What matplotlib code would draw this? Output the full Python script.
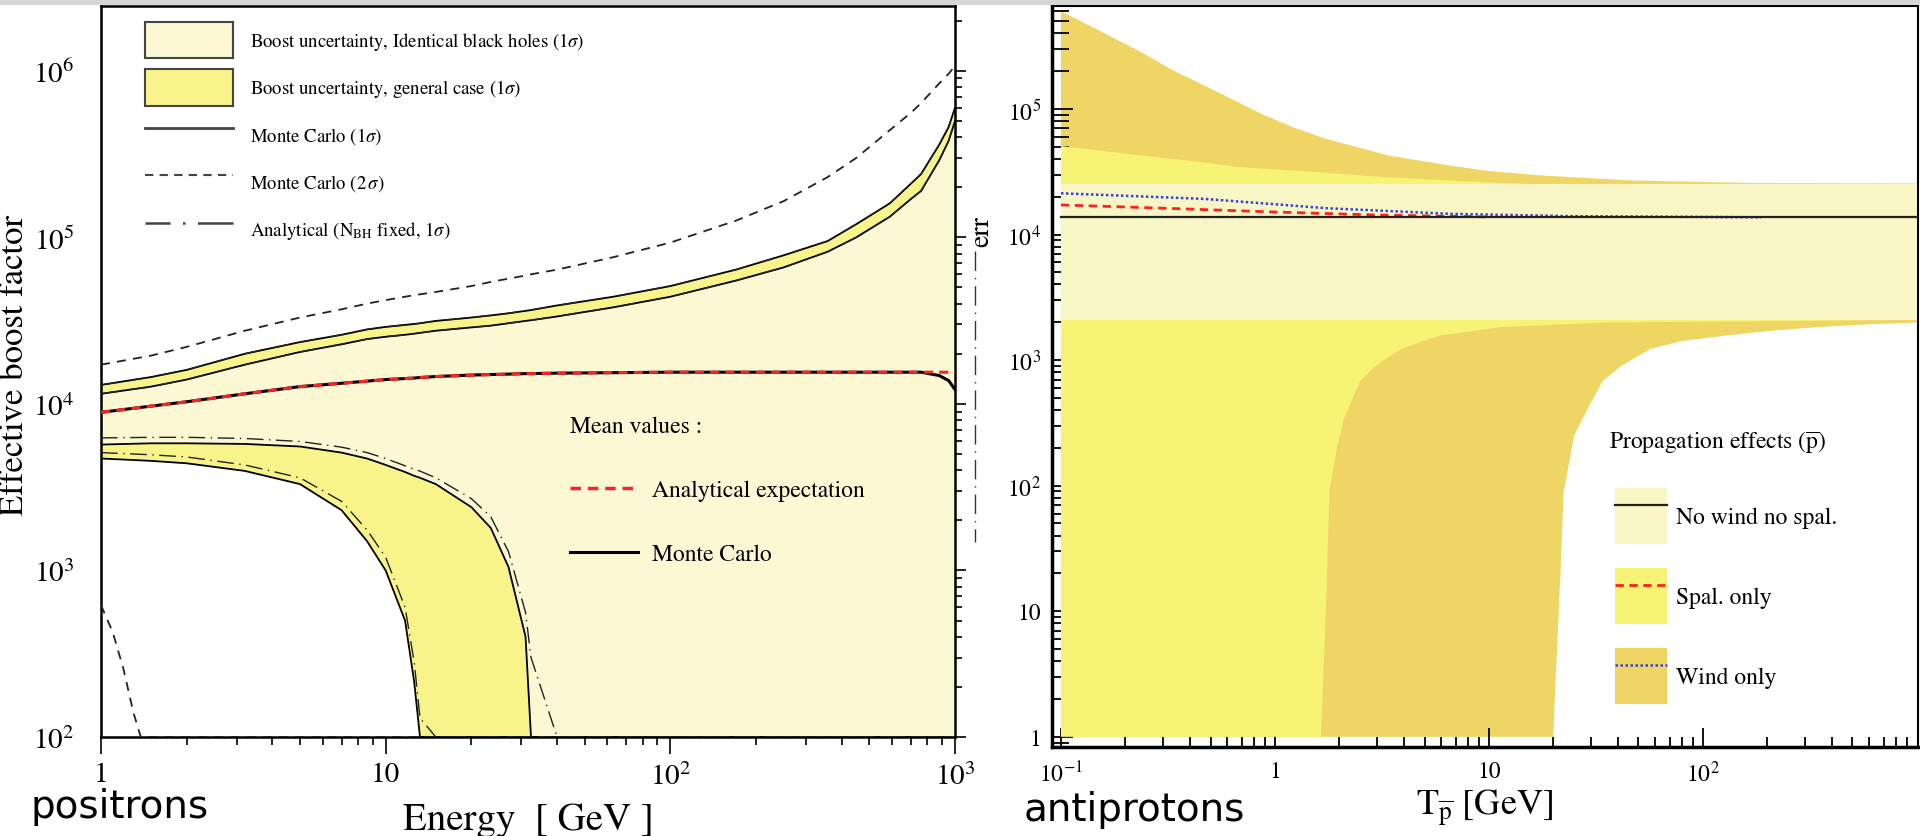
import matplotlib
matplotlib.use("Agg")
import matplotlib.pyplot as plt
import numpy as np
from matplotlib.patches import Patch, Rectangle
from matplotlib.lines import Line2D
from matplotlib.ticker import LogLocator, NullFormatter

plt.rcParams['font.family'] = ['STIXGeneral', 'DejaVu Serif']
plt.rcParams['mathtext.fontset'] = 'stix'

# ---- positrons: effective boost factor vs energy ----
energy = [1, 1.5, 2, 3.2, 5, 7, 8.6, 10, 11.7, 12.6, 13.2, 15, 20, 23.4, 27, 31, 32.4,
          40, 63, 100, 170, 250, 357, 450, 590, 700, 760, 880, 950, 1000]

# general case 1 sigma band (upper / lower edge)
gen_hi = [1.30e4, 1.45e4, 1.6e4, 2.0e4, 2.35e4, 2.6e4, 2.8e4, 2.9e4, 2.98e4, 3.02e4, 3.05e4,
          3.15e4, 3.3e4, 3.4e4, 3.5e4, 3.62e4, 3.66e4, 3.9e4, 4.4e4, 5.1e4, 6.4e4, 7.8e4,
          9.5e4, 1.2e5, 1.6e5, 2.1e5, 2.4e5, 3.6e5, 4.6e5, 6.0e5]
gen_lo = [4.7e3, 4.55e3, 4.4e3, 3.96e3, 3.3e3, 2.3e3, 1.5e3, 1.0e3, 500, 213, 100,
          100, 100, 100, 100, 100, 100, 100, 100, 100, 100, 100, 100, 100, 100, 100, 100,
          100, 100, 100]
# identical black holes 1 sigma band
ident_hi = [1.15e4, 1.27e4, 1.4e4, 1.72e4, 2.05e4, 2.28e4, 2.45e4, 2.53e4, 2.6e4, 2.64e4,
            2.67e4, 2.75e4, 2.88e4, 2.95e4, 3.05e4, 3.15e4, 3.18e4, 3.35e4, 3.8e4, 4.4e4,
            5.5e4, 6.6e4, 8.2e4, 1.0e5, 1.33e5, 1.7e5, 1.9e5, 2.9e5, 3.8e5, 5.0e5]
ident_lo = [5.7e3, 5.8e3, 5.8e3, 5.75e3, 5.55e3, 5.1e3, 4.7e3, 4.3e3, 3.9e3, 3.7e3, 3.6e3,
            3.3e3, 2.4e3, 1.8e3, 1.05e3, 400, 100, 100, 100, 100, 100, 100, 100, 100, 100,
            100, 100, 100, 100, 100]
# Monte Carlo 2 sigma
mc2_hi = [1.72e4, 1.95e4, 2.2e4, 2.75e4, 3.3e4, 3.7e4, 4.0e4, 4.2e4, 4.4e4, 4.5e4, 4.55e4,
          4.7e4, 5.1e4, 5.4e4, 5.65e4, 5.9e4, 6.0e4, 6.4e4, 7.6e4, 9.3e4, 1.26e5, 1.65e5,
          2.3e5, 3.0e5, 4.4e5, 5.6e5, 6.4e5, 8.4e5, 9.6e5, 1.07e6]
energy_mc2_lo = [1, 1.1, 1.2, 1.3, 1.38, 1000]
mc2_lo = [620, 425, 255, 140, 100, 100]
# analytical, N_BH fixed (lower band)
ana_hi = [6.25e3, 6.3e3, 6.3e3, 6.2e3, 5.95e3, 5.5e3, 5.1e3, 4.7e3, 4.25e3, 4.05e3, 3.95e3,
          3.6e3, 2.7e3, 2.1e3, 1.3e3, 560, 300, 100, 100, 100, 100, 100, 100, 100, 100,
          100, 100, 100, 100, 100]
ana_lo = [5.1e3, 4.95e3, 4.8e3, 4.3e3, 3.6e3, 2.6e3, 1.75e3, 1.2e3, 600, 280, 130, 100,
          100, 100, 100, 100, 100, 100, 100, 100, 100, 100, 100, 100, 100, 100, 100, 100,
          100, 100]
# mean values
mean_ana = [8.9e3, 9.7e3, 1.03e4, 1.15e4, 1.27e4, 1.33e4, 1.37e4, 1.4e4, 1.42e4, 1.43e4,
            1.44e4, 1.46e4, 1.49e4, 1.5e4, 1.51e4, 1.52e4, 1.52e4, 1.53e4, 1.54e4, 1.55e4,
            1.55e4, 1.55e4, 1.55e4, 1.55e4, 1.55e4, 1.55e4, 1.55e4, 1.55e4, 1.55e4, 1.55e4]
mean_mc = [8.9e3, 9.7e3, 1.03e4, 1.15e4, 1.27e4, 1.33e4, 1.37e4, 1.4e4, 1.42e4, 1.43e4,
           1.44e4, 1.46e4, 1.49e4, 1.5e4, 1.51e4, 1.52e4, 1.52e4, 1.53e4, 1.54e4, 1.55e4,
           1.55e4, 1.55e4, 1.55e4, 1.55e4, 1.55e4, 1.55e4, 1.55e4, 1.48e4, 1.38e4, 1.22e4]

# ---- antiprotons: propagation effects ----
T_wind_hi = [0.1, 0.16, 0.24, 0.33, 0.47, 0.66, 0.9, 1.2, 1.74, 2.5, 3.4, 6.6, 10, 17.7,
             47, 175, 1000]
wind_hi = [6.0e5, 4.0e5, 2.8e5, 2.05e5, 1.53e5, 1.15e5, 8.85e4, 7.2e4, 5.76e4, 4.9e4,
           4.25e4, 3.54e4, 3.2e4, 2.95e4, 2.69e4, 2.57e4, 2.55e4]
T_wind_lo = [0.1, 20, 20.3, 21.6, 22.3, 25, 30, 34, 41.5, 57, 80, 125, 200, 338, 600, 1000]
wind_lo = [1, 1, 2, 20, 87, 250, 460, 680, 900, 1230, 1420, 1560, 1700, 1830, 1930, 1990]
T_spal_hi = [0.1, 0.24, 0.47, 0.66, 1, 1.74, 3.4, 6.6, 10, 15, 1000]
spal_hi = [5.07e4, 4.25e4, 3.75e4, 3.45e4, 3.3e4, 3.1e4, 2.85e4, 2.69e4, 2.6e4, 2.53e4, 2.53e4]
T_spal_lo = [0.1, 1.64, 1.73, 1.8, 1.95, 2.1, 2.5, 2.95, 3.9, 5.8, 11.3, 34, 1000]
spal_lo = [1, 1, 10, 93, 200, 340, 680, 900, 1230, 1560, 1830, 1990, 2090]
T_none = [0.1, 1000]
none_hi = [2.53e4, 2.53e4]
none_lo = [2090, 2090]

T_line_none = [0.1, 1000]
line_none = [1.37e4, 1.37e4]
T_line_spal = [0.1, 0.3, 1, 3, 10]
line_spal = [1.72e4, 1.62e4, 1.51e4, 1.43e4, 1.38e4]
T_line_wind = [0.1, 0.47, 1.74, 6.6, 24.5, 187]
line_wind = [2.13e4, 1.92e4, 1.62e4, 1.46e4, 1.40e4, 1.37e4]

cream = '#FCF8D4'
yellow = '#F8F48A'
r_cream = '#F9F6C6'
r_yellow = '#F7F374'
r_gold = '#EFD664'

W, H = 1920, 837
fig = plt.figure(figsize=(W / 100, H / 100), dpi=100)
fig.patches.append(Rectangle((0, 1 - 6 / H), 1, 6 / H, transform=fig.transFigure,
                             facecolor='#d6d6d6', edgecolor='none'))

# left panel
ax = fig.add_axes([101 / W, 1 - 738 / H, 854 / W, 731 / H])
ax.set_xscale('log')
ax.set_yscale('log')
ax.fill_between(energy, gen_lo, gen_hi, color=yellow, lw=0, zorder=1)
ax.fill_between(energy, ident_lo, ident_hi, color=cream, lw=0, zorder=2)
for curve in [gen_hi, ident_hi, ident_lo, gen_lo]:
    ax.plot(energy, curve, color='black', lw=1.3, zorder=4)
for curve in [gen_hi, ident_hi]:
    ax.plot(energy, curve, color='#222222', lw=1.0, ls=(0, (12, 4, 1, 4)), zorder=4)
ax.plot(energy, ana_hi, color='#222222', lw=1.0, ls=(0, (12, 4, 1, 4)), zorder=4)
ax.plot(energy, ana_lo, color='#222222', lw=1.0, ls=(0, (12, 4, 1, 4)), zorder=4)
ax.plot(energy, mc2_hi, color='#222222', lw=1.3, ls=(0, (5, 4)), zorder=4)
ax.plot(energy_mc2_lo, mc2_lo, color='#222222', lw=1.3, ls=(0, (5, 4)), zorder=4)
ax.plot(energy, mean_mc, color='black', lw=2.2, zorder=5)
ax.plot(energy, mean_ana, color='#ff2020', lw=2.2, ls=(0, (3, 2)), zorder=6)

ax.set_xlim(1, 1000)
ax.set_ylim(100, 2.45e6)
ax.set_xticks([1, 10, 100, 1000], ['1', '10', r'$10^2$', r'$10^3$'])
ax.set_yticks([1e2, 1e3, 1e4, 1e5, 1e6],
              [r'$10^2$', r'$10^3$', r'$10^4$', r'$10^5$', r'$10^6$'])
ax.xaxis.set_minor_locator(LogLocator(base=10, subs=range(2, 10)))
ax.yaxis.set_minor_locator(LogLocator(base=10, subs=range(2, 10)))
ax.xaxis.set_minor_formatter(NullFormatter())
ax.yaxis.set_minor_formatter(NullFormatter())
ax.tick_params(axis='x', which='both', direction='out', labelsize=21, pad=6, width=1.2)
ax.tick_params(axis='x', which='major', length=12)
ax.tick_params(axis='x', which='minor', length=6)
ax.tick_params(axis='y', which='both', direction='out', left=False, right=True,
               labelleft=True, labelsize=21, pad=11, width=1.2)
ax.tick_params(axis='y', which='major', length=8)
ax.tick_params(axis='y', which='minor', length=5)
for s in ax.spines.values():
    s.set_linewidth(1.8)
ax.set_xlabel('Energy  [ GeV ]', fontsize=28, labelpad=9)
ax.set_ylabel('Effective boost factor', fontsize=25)
ax.yaxis.set_label_coords(-0.082, 0.51)

leg_handles = [
    Patch(facecolor=cream, edgecolor='#444444', lw=1.5),
    Patch(facecolor=yellow, edgecolor='#444444', lw=1.5),
    Line2D([], [], color='#444444', lw=2),
    Line2D([], [], color='#444444', lw=1.5, ls=(0, (4, 3))),
    Line2D([], [], color='#444444', lw=1.8, ls=(0, (10, 5, 1, 5, 6, 0))),
]
leg_labels = [
    r'Boost uncertainty, Identical black holes (1$\sigma$)',
    r'Boost uncertainty, general case (1$\sigma$)',
    r'Monte Carlo (1$\sigma$)',
    r'Monte Carlo (2$\,\sigma$)',
    r'Analytical (N$_{\rm BH}$ fixed, 1$\sigma$)',
]
leg1 = ax.legend(leg_handles, leg_labels, loc='upper left', bbox_to_anchor=(0.0515, 0.978),
                 frameon=False, fontsize=13.5, handlelength=4.7, handleheight=2.6,
                 labelspacing=0.58, handletextpad=0.9, borderpad=0, borderaxespad=0)
ax.add_artist(leg1)
mean_handles = [Line2D([], [], color='#ff2020', lw=2.5, ls=(0, (3, 2))),
                Line2D([], [], color='black', lw=2.2)]
ax.legend(mean_handles, ['Analytical expectation', 'Monte Carlo'], title='Mean values :',
          title_fontsize=17, fontsize=17, loc='upper left', bbox_to_anchor=(0.549, 0.44),
          frameon=False, handlelength=2.9, handletextpad=0.6, labelspacing=1.8,
          borderpad=0, borderaxespad=0, alignment='left')

# right panel
ax2 = fig.add_axes([1052 / W, 1 - 748 / H, 866 / W, 741 / H])
ax2.set_xscale('log')
ax2.set_yscale('log')
ax2.fill(np.concatenate([T_wind_hi, T_wind_lo[::-1]]),
         np.concatenate([wind_hi, wind_lo[::-1]]), color=r_gold, lw=0, zorder=1)
ax2.fill(np.concatenate([T_spal_hi, T_spal_lo[::-1]]),
         np.concatenate([spal_hi, spal_lo[::-1]]), color=r_yellow, lw=0, zorder=2)
ax2.fill_between(T_none, none_lo, none_hi, color=r_cream, lw=0, zorder=3)
ax2.plot(T_line_wind, line_wind, color='#3344dd', lw=1.8, ls=(0, (1, 1)), zorder=4)
ax2.plot(T_line_spal, line_spal, color='#ff2020', lw=2.0, ls=(0, (3, 2)), zorder=5)
ax2.plot(T_line_none, line_none, color='#222222', lw=1.6, zorder=6)

ax2.set_xlim(0.0908, 1012)
ax2.set_ylim(0.83, 6.6e5)
ax2.set_xticks([0.1, 1, 10, 100], [r'$10^{-1}$', '1', '10', r'$10^2$'])
ax2.set_yticks([1, 10, 1e2, 1e3, 1e4, 1e5],
               ['1', '10', r'$10^2$', r'$10^3$', r'$10^4$', r'$10^5$'])
ax2.xaxis.set_minor_locator(LogLocator(base=10, subs=range(2, 10)))
ax2.yaxis.set_minor_locator(LogLocator(base=10, subs=range(2, 10)))
ax2.xaxis.set_minor_formatter(NullFormatter())
ax2.yaxis.set_minor_formatter(NullFormatter())
ax2.tick_params(axis='both', which='both', direction='in', labelsize=17, width=1.3)
ax2.tick_params(axis='x', which='major', length=14, pad=10)
ax2.tick_params(axis='x', which='minor', length=7)
ax2.tick_params(axis='y', which='major', length=15, pad=8)
ax2.tick_params(axis='y', which='minor', length=12)
ax2.spines['left'].set_linewidth(2.5)
ax2.spines['bottom'].set_linewidth(2.5)
ax2.spines['top'].set_linewidth(1.5)
ax2.spines['right'].set_linewidth(1.5)
ax2.set_xlabel(r'T$_{\overline{\rm p}}$ [GeV]', fontsize=26, labelpad=0)

prop_handles = [
    (Patch(facecolor=r_cream, lw=0), Line2D([], [], color='#222222', lw=1.6)),
    (Patch(facecolor=r_yellow, lw=0), Line2D([], [], color='#ff2020', lw=2, ls=(0, (3, 2)))),
    (Patch(facecolor=r_gold, lw=0), Line2D([], [], color='#3344dd', lw=1.8, ls=(0, (1, 1)))),
]
ax2.legend(prop_handles, ['No wind no spal.', 'Spal. only', 'Wind only'],
           fontsize=17, loc='upper left', bbox_to_anchor=(0.65, 0.35), frameon=False,
           handlelength=2.2, handleheight=3.3, labelspacing=1.0, handletextpad=0.4,
           borderpad=0, borderaxespad=0)
ax2.text(0.643, 0.412, r'Propagation effects ($\overline{\rm p}$)', fontsize=17,
         transform=ax2.transAxes, ha='left', va='center')

# leftover axis label fragment between the panels
fig.text(982 / W, 1 - 232 / H, 'err', rotation=90, fontsize=20, ha='center', va='center')
fig.add_artist(Line2D([975 / W, 975 / W], [1 - 252 / H, 1 - 543 / H],
                      transform=fig.transFigure, color='#333333', lw=1,
                      ls=(0, (14, 5, 1, 5))))

fig.text(30 / W, 1 - 807 / H, 'positrons', fontsize=28, family='DejaVu Sans', va='center')
fig.text(1024 / W, 1 - 810 / H, 'antiprotons', fontsize=28, family='DejaVu Sans',
         va='center')

fig.savefig('out.png', dpi=100)
